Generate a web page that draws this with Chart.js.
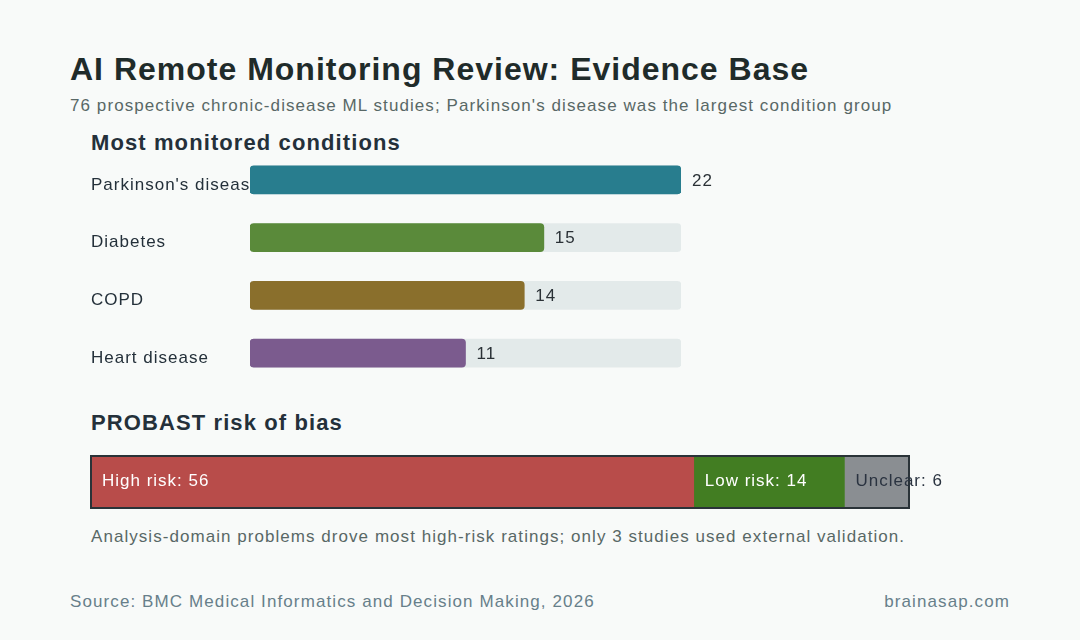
<!DOCTYPE html>
<html lang="en">
<head>
  <meta charset="UTF-8">
  <title>AI Remote Monitoring Review</title>
  <script src="https://cdn.jsdelivr.net/npm/chart.js"></script>
  <style>
    html, body {
      margin: 0;
      padding: 0;
    }
    body {
      width: 1080px;
      height: 640px;
      background: #f8faf9;
      font-family: "Liberation Sans", Arial, sans-serif;
      position: relative;
      overflow: hidden;
    }
    .txt {
      position: absolute;
      white-space: nowrap;
    }
    #title { left: 70px; top: 51px; font-size: 32px; font-weight: bold; color: #1f2b2a; letter-spacing: 1px; }
    #subtitle { left: 70px; top: 96px; font-size: 17px; color: #586866; letter-spacing: 1.08px; }
    .section { left: 91px; font-size: 22px; font-weight: bold; color: #24303a; letter-spacing: 1.1px; }
    #note { left: 91px; top: 527px; font-size: 17px; color: #586866; letter-spacing: 1.05px; }
    .foot { top: 592px; font-size: 17px; color: #677f8a; letter-spacing: 1.1px; }
    #condWrap { position: absolute; left: 91px; top: 151px; width: 700px; height: 231px; }
    #biasWrap { position: absolute; left: 80px; top: 446px; width: 900px; height: 72px; }
  </style>
</head>
<body>
  <div class="txt" id="title">AI Remote Monitoring Review: Evidence Base</div>
  <div class="txt" id="subtitle">76 prospective chronic-disease ML studies; Parkinson's disease was the largest condition group</div>
  <div class="txt section" style="top:130px">Most monitored conditions</div>
  <div class="txt section" style="top:410px">PROBAST risk of bias</div>
  <div class="txt" id="note">Analysis-domain problems drove most high-risk ratings; only 3 studies used external validation.</div>
  <div class="txt foot" style="left:70px">Source: BMC Medical Informatics and Decision Making, 2026</div>
  <div class="txt foot" style="right:70px">brainasap.com</div>

  <div id="condWrap"><canvas id="condChart"></canvas></div>
  <div id="biasWrap"><canvas id="biasChart"></canvas></div>

  <script>
    const conditions = ["Parkinson's disease", "Diabetes", "COPD", "Heart disease"];
    const studyCounts = [22, 15, 14, 11];
    const conditionColors = ['#287d8e', '#5a8a3a', '#8a6f2c', '#7b5b8e'];

    const biasLabels = ['High risk', 'Low risk', 'Unclear'];
    const biasCounts = [56, 14, 6];
    const biasColors = ['#b84c4a', '#427d22', '#8a8e92'];
    const biasTextColors = ['#ffffff', '#ffffff', '#2a3340'];

    const FONT = '"Liberation Sans", Arial, sans-serif';
    const maxCount = Math.max(...studyCounts);

    // the reference text is set a little looser than the canvas default
    const spacing = {
      id: 'spacing',
      beforeDraw(chart) { chart.ctx.letterSpacing = '1px'; }
    };

    // value label after each bar
    const valueLabels = {
      id: 'valueLabels',
      afterDatasetsDraw(chart) {
        const ctx = chart.ctx;
        const meta = chart.getDatasetMeta(0);
        ctx.save();
        ctx.font = '17px ' + FONT;
        ctx.fillStyle = '#2a3136';
        ctx.textAlign = 'left';
        ctx.textBaseline = 'middle';
        meta.data.forEach((bar, i) => {
          ctx.fillText(String(studyCounts[i]), bar.x + 11, bar.y + 1);
        });
        ctx.restore();
      }
    };

    new Chart(document.getElementById('condChart'), {
      type: 'bar',
      data: {
        labels: conditions,
        datasets: [{
          data: studyCounts,
          backgroundColor: conditionColors,
          borderRadius: 4,
          borderSkipped: false,
          barThickness: 28,
          order: 0
        }, {
          data: conditions.map(() => maxCount),
          backgroundColor: '#e3eaea',
          borderRadius: 4,
          borderSkipped: false,
          barThickness: 28,
          order: 1
        }]
      },
      options: {
        indexAxis: 'y',
        responsive: true,
        maintainAspectRatio: false,
        animation: false,
        layout: { padding: { left: 0, right: 110, top: 0, bottom: 0 } },
        datasets: { bar: { grouped: false } },
        plugins: { legend: { display: false }, tooltip: { enabled: false } },
        scales: {
          x: { display: false, min: 0, max: maxCount },
          y: {
            grid: { display: false },
            border: { display: false },
            afterFit(scale) {
              scale.width = 159;
              scale.paddingTop = 0;
              scale.paddingBottom = 0;
            },
            ticks: {
              crossAlign: 'far',
              padding: 0,
              labelOffset: 5,
              color: '#24303a',
              font: { family: FONT, size: 17 }
            }
          }
        }
      },
      plugins: [spacing, valueLabels]
    });

    // outline + segment labels for the stacked bar
    const biasDecor = {
      id: 'biasDecor',
      afterDatasetsDraw(chart) {
        const ctx = chart.ctx;
        const first = chart.getDatasetMeta(0).data[0];
        const last = chart.getDatasetMeta(biasCounts.length - 1).data[0];
        const left = first.base, right = last.x;
        const top = first.y - first.height / 2, bottom = first.y + first.height / 2;
        ctx.save();
        ctx.strokeStyle = '#2a3338';
        ctx.lineWidth = 2;
        ctx.strokeRect(left, top, right - left, bottom - top);
        ctx.font = '17px ' + FONT;
        ctx.textAlign = 'left';
        ctx.textBaseline = 'middle';
        biasCounts.forEach((v, i) => {
          const bar = chart.getDatasetMeta(i).data[0];
          ctx.fillStyle = biasTextColors[i];
          ctx.fillText(biasLabels[i] + ': ' + v, bar.base + 11, bar.y - 1);
        });
        ctx.restore();
      }
    };

    const biasTotal = biasCounts.reduce((a, b) => a + b, 0);

    new Chart(document.getElementById('biasChart'), {
      type: 'bar',
      data: {
        labels: ['PROBAST'],
        datasets: biasCounts.map((v, i) => ({
          label: biasLabels[i],
          data: [v],
          backgroundColor: biasColors[i],
          borderWidth: 0,
          barPercentage: 1,
          categoryPercentage: 1
        }))
      },
      options: {
        indexAxis: 'y',
        responsive: true,
        maintainAspectRatio: false,
        animation: false,
        layout: { padding: { left: 11, right: 71, top: 10, bottom: 10 } },
        plugins: { legend: { display: false }, tooltip: { enabled: false } },
        scales: {
          x: { display: false, stacked: true, min: 0, max: biasTotal },
          y: { display: false, stacked: true }
        }
      },
      plugins: [spacing, biasDecor]
    });
  </script>
</body>
</html>
